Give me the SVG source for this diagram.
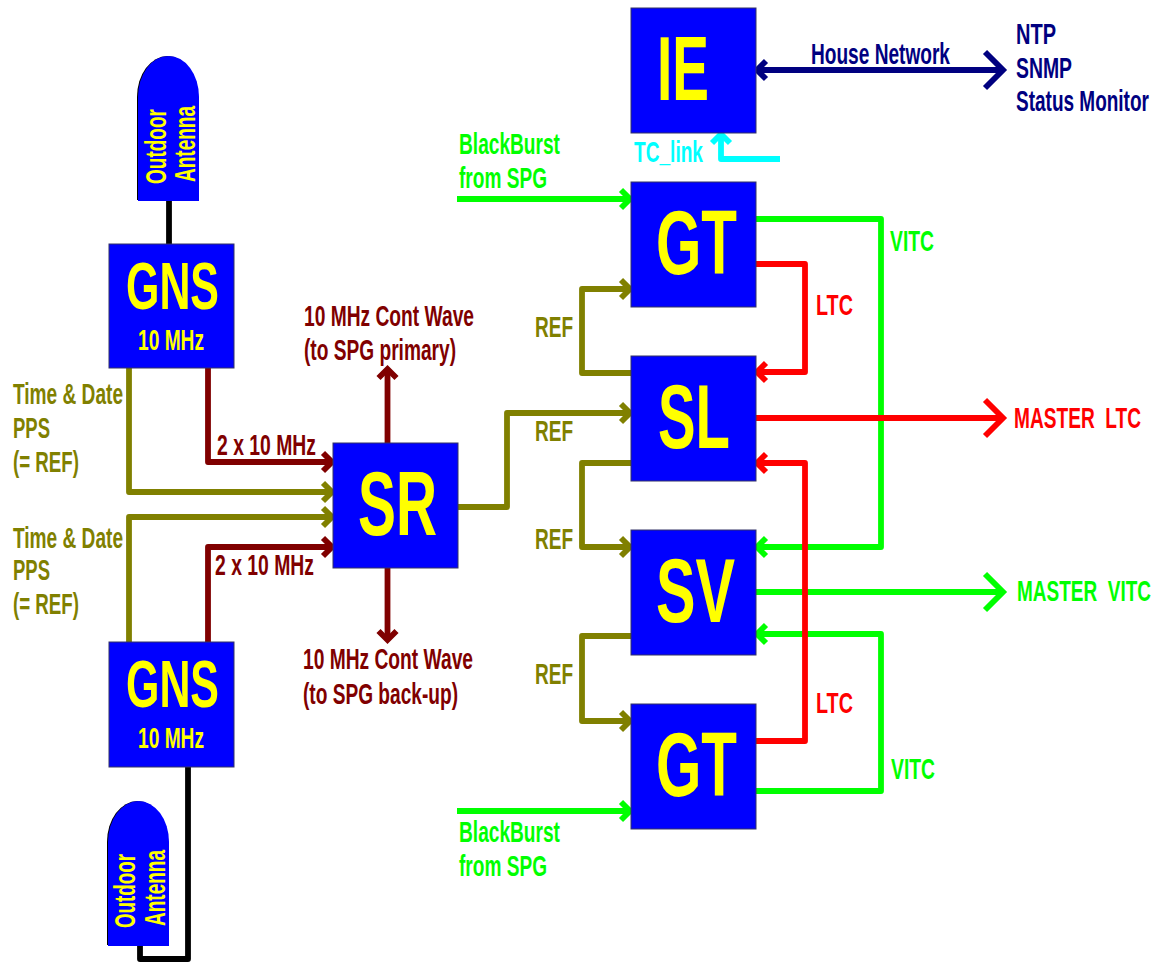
<svg xmlns="http://www.w3.org/2000/svg" width="1157" height="963" viewBox="0 0 1157 963">
<style>
text{font-family:"Liberation Sans",Arial,sans-serif;font-weight:700;white-space:pre;}
.box{fill:#0000ff;stroke:#333366;stroke-width:1;}
.ant{fill:#0000ff;}
.big{fill:#ffff00;font-size:90px;}
.mid{fill:#ffff00;font-size:67px;}
.sm{fill:#ffff00;font-size:30px;}
.l{font-size:30px;}
.w{fill:none;stroke-width:5.8;stroke-linejoin:round;stroke-linecap:butt;}
.h{stroke-linejoin:miter;}
.k{stroke:#000000}.o{stroke:#808000}.d{stroke:#800000}.g{stroke:#00ff00}.r{stroke:#ff0000}.n{stroke:#000080}.c{stroke:#00ffff}
.to{fill:#808000}.td{fill:#800000}.tg{fill:#00ff00}.tr{fill:#ff0000}.tn{fill:#000080}.tc{fill:#00ffff}
</style>
<g id="connectors">
<path class="w k" d="M169 201V244"/>
<path class="w k" d="M188 767V959H140V946"/>
<path class="w o" d="M129 368V492H332"/><path class="w o h" d="M323 483L332 492L323 501"/>
<path class="w o" d="M129 642V517H332"/><path class="w o h" d="M323 508L332 517L323 526"/>
<path class="w d" d="M208 368V462H332"/><path class="w d h" d="M323 453L332 462L323 471"/>
<path class="w d" d="M208 642V547H332"/><path class="w d h" d="M323 538L332 547L323 556"/>
<path class="w d" d="M387.500 443V369"/><path class="w d h" d="M378.500 378L387.500 369L396.500 378"/>
<path class="w d" d="M387.500 568V640"/><path class="w d h" d="M378.500 631L387.500 640L396.500 631"/>
<path class="w o" d="M458 507H507V413H630"/><path class="w o h" d="M621 404L630 413L621 422"/>
<path class="w o" d="M631 373H582V289H630"/><path class="w o h" d="M621 280L630 289L621 298"/>
<path class="w o" d="M631 463H582V547H630"/><path class="w o h" d="M621 538L630 547L621 556"/>
<path class="w o" d="M631 636H582V721H630"/><path class="w o h" d="M621 712L630 721L621 730"/>
<path class="w g" d="M457 199H630"/><path class="w g h" d="M621 190L630 199L621 208"/>
<path class="w g" d="M457 811H630"/><path class="w g h" d="M621 802L630 811L621 820"/>
<path class="w g" d="M756 219H881V547H757"/><path class="w g h" d="M766 538L757 547L766 556"/>
<path class="w g" d="M756 791H881V634H757"/><path class="w g h" d="M766 625L757 634L766 643"/>
<path class="w g" d="M756 592H1003"/><path class="w g h" d="M985 574L1003 592L985 610"/>
<path class="w r" d="M756 264H805V372H757"/><path class="w r h" d="M766 363L757 372L766 381"/>
<path class="w r" d="M756 741H805V463H757"/><path class="w r h" d="M766 454L757 463L766 472"/>
<path class="w r" d="M756 418H1003"/><path class="w r h" d="M985 400L1003 418L985 436"/>
<path class="w n" d="M757 70H1003"/><path class="w n h" d="M766 61L757 70L766 79"/><path class="w n h" d="M985 52L1003 70L985 88"/>
<path class="w c" d="M780 159H721V134"/><path class="w c h" d="M712 143L721 134L730 143"/>
</g>
<g id="antenna1"><path d="M137 200V97A30.500 41 0 0 1 198 97V200Z" fill="#000"/><path class="ant" d="M138 201V97A30.500 41 0 0 1 199 97V201Z"/>
<text class="sm" transform="translate(166,184) rotate(-90)" textLength="75" lengthAdjust="spacingAndGlyphs">Outdoor</text>
<text class="sm" transform="translate(195,182) rotate(-90)" textLength="76" lengthAdjust="spacingAndGlyphs">Antenna</text></g>
<g id="antenna2"><path d="M107 945V842A30.500 41 0 0 1 168 842V945Z" fill="#000"/><path class="ant" d="M108 946V842A30.500 41 0 0 1 169 842V946Z"/>
<text class="sm" transform="translate(135,928) rotate(-90)" textLength="74" lengthAdjust="spacingAndGlyphs">Outdoor</text>
<text class="sm" transform="translate(165,926) rotate(-90)" textLength="76" lengthAdjust="spacingAndGlyphs">Antenna</text></g>
<g id="gns1"><rect class="box" x="109" y="244" width="125" height="124"/><text class="mid" x="126" y="309" textLength="93" lengthAdjust="spacingAndGlyphs">GNS</text><text class="sm" x="138" y="350" textLength="66" lengthAdjust="spacingAndGlyphs">10 MHz</text></g>
<g id="gns2"><rect class="box" x="109" y="642" width="125" height="125"/><text class="mid" x="126" y="707" textLength="93" lengthAdjust="spacingAndGlyphs">GNS</text><text class="sm" x="138" y="748" textLength="66" lengthAdjust="spacingAndGlyphs">10 MHz</text></g>
<g id="sr"><rect class="box" x="333" y="443" width="125" height="125"/><text class="big" x="358" y="535" textLength="79" lengthAdjust="spacingAndGlyphs">SR</text></g>
<g id="ie"><rect class="box" x="631" y="8" width="125" height="125"/><text class="big" x="657" y="100" textLength="52" lengthAdjust="spacingAndGlyphs">IE</text></g>
<g id="gt1"><rect class="box" x="631" y="182" width="125" height="125"/><text class="big" x="656" y="274" textLength="81" lengthAdjust="spacingAndGlyphs">GT</text></g>
<g id="sl"><rect class="box" x="631" y="356" width="125" height="125"/><text class="big" x="658" y="448" textLength="72" lengthAdjust="spacingAndGlyphs">SL</text></g>
<g id="sv"><rect class="box" x="631" y="530" width="125" height="125"/><text class="big" x="656" y="622" textLength="79" lengthAdjust="spacingAndGlyphs">SV</text></g>
<g id="gt2"><rect class="box" x="631" y="704" width="125" height="125"/><text class="big" x="656" y="796" textLength="81" lengthAdjust="spacingAndGlyphs">GT</text></g>
<g id="labels">
<text class="l to" x="13" y="404" textLength="110" lengthAdjust="spacingAndGlyphs">Time &amp; Date</text>
<text class="l to" x="13" y="438" textLength="37" lengthAdjust="spacingAndGlyphs">PPS</text>
<text class="l to" x="13" y="472" textLength="66" lengthAdjust="spacingAndGlyphs">(= REF)</text>
<text class="l to" x="13" y="548" textLength="110" lengthAdjust="spacingAndGlyphs">Time &amp; Date</text>
<text class="l to" x="13" y="580" textLength="37" lengthAdjust="spacingAndGlyphs">PPS</text>
<text class="l to" x="13" y="614" textLength="66" lengthAdjust="spacingAndGlyphs">(= REF)</text>
<text class="l td" x="217" y="455" textLength="99" lengthAdjust="spacingAndGlyphs">2 x 10 MHz</text>
<text class="l td" x="215" y="575" textLength="99" lengthAdjust="spacingAndGlyphs">2 x 10 MHz</text>
<text class="l td" transform="translate(304,326) scale(.6374,1)" textLength="266.700" lengthAdjust="spacingAndGlyphs">10 MHz Cont Wave</text>
<text class="l td" x="304" y="360" textLength="152" lengthAdjust="spacingAndGlyphs">(to SPG primary)</text>
<text class="l td" transform="translate(303,669) scale(.6374,1)" textLength="266.700" lengthAdjust="spacingAndGlyphs">10 MHz Cont Wave</text>
<text class="l td" x="303" y="704" textLength="155" lengthAdjust="spacingAndGlyphs">(to SPG back-up)</text>
<text class="l tg" x="459" y="154" textLength="101" lengthAdjust="spacingAndGlyphs">BlackBurst</text>
<text class="l tg" x="459" y="188" textLength="88" lengthAdjust="spacingAndGlyphs">from SPG</text>
<text class="l tg" x="459" y="842" textLength="101" lengthAdjust="spacingAndGlyphs">BlackBurst</text>
<text class="l tg" x="459" y="876" textLength="88" lengthAdjust="spacingAndGlyphs">from SPG</text>
<text class="l to" x="535" y="337" textLength="38" lengthAdjust="spacingAndGlyphs">REF</text>
<text class="l to" x="535" y="441" textLength="38" lengthAdjust="spacingAndGlyphs">REF</text>
<text class="l to" x="535" y="549" textLength="38" lengthAdjust="spacingAndGlyphs">REF</text>
<text class="l to" x="535" y="684" textLength="38" lengthAdjust="spacingAndGlyphs">REF</text>
<text class="l tr" x="816" y="315" textLength="37" lengthAdjust="spacingAndGlyphs">LTC</text>
<text class="l tr" x="816" y="713" textLength="37" lengthAdjust="spacingAndGlyphs">LTC</text>
<text class="l tg" x="890" y="251" textLength="44" lengthAdjust="spacingAndGlyphs">VITC</text>
<text class="l tg" x="891" y="779" textLength="44" lengthAdjust="spacingAndGlyphs">VITC</text>
<text class="l tr" transform="translate(1014,428) scale(.63,1)" textLength="201.700" lengthAdjust="spacingAndGlyphs">MASTER  LTC</text>
<text class="l tg" transform="translate(1017,601) scale(.633,1)" textLength="211.700" lengthAdjust="spacingAndGlyphs">MASTER  VITC</text>
<text class="l tn" x="811" y="64" textLength="139" lengthAdjust="spacingAndGlyphs">House Network</text>
<text class="l tn" x="1016" y="44" textLength="40" lengthAdjust="spacingAndGlyphs">NTP</text>
<text class="l tn" x="1016" y="78" textLength="56" lengthAdjust="spacingAndGlyphs">SNMP</text>
<text class="l tn" transform="translate(1016,111) scale(.633,1)" textLength="210" lengthAdjust="spacingAndGlyphs">Status Monitor</text>
<text class="l tc" x="634" y="162" textLength="69" lengthAdjust="spacingAndGlyphs">TC_link</text>
</g>
</svg>
